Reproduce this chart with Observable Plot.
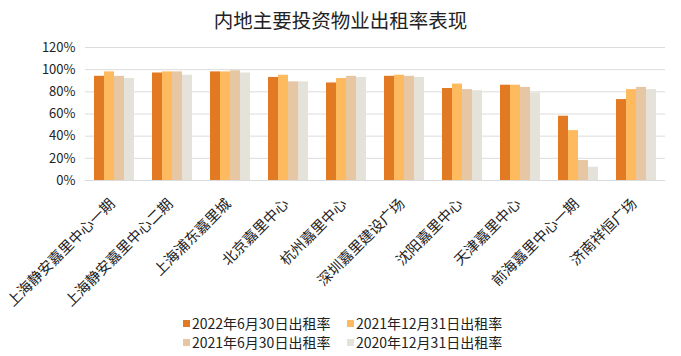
<!DOCTYPE html>
<html>
<head>
<meta charset="utf-8">
<script src="https://cdn.jsdelivr.net/npm/d3@7"></script>
<script src="https://cdn.jsdelivr.net/npm/@observablehq/plot@0.6"></script>
<style>
  body { margin: 0; background: #fff; font-family: "Noto Sans CJK SC", "Noto Sans", sans-serif; color: #222; }
  #wrap { width: 681px; height: 356px; overflow: hidden; }
  #title { height: 38px; line-height: 40px; text-align: center; font-size: 19.5px; color: #222; }
  #chart svg { display: block; }
  #legend { display: grid; grid-template-columns: 164px auto; padding-left: 183px; font-size: 14px; line-height: 19px; margin-top: 4px; }
  .item { display: flex; align-items: center; white-space: nowrap; }
  .sw { width: 7px; height: 7px; margin-right: 2px; display: inline-block; }
</style>
</head>
<body>
<div id="wrap">
  <div id="title">内地主要投资物业出租率表现</div>
  <div id="chart"></div>
  <div id="legend"></div>
</div>
<script>
const categories = ["上海静安嘉里中心一期","上海静安嘉里中心二期","上海浦东嘉里城","北京嘉里中心","杭州嘉里中心","深圳嘉里建设广场","沈阳嘉里中心","天津嘉里中心","前海嘉里中心一期","济南祥恒广场"];
const series = ["2022年6月30日出租率","2021年12月31日出租率","2021年6月30日出租率","2020年12月31日出租率"];
const rate2022Jun = [94, 97, 98, 93, 88, 94, 83, 86, 58, 73];
const rate2021Dec = [98, 98, 98, 95, 92, 95, 87, 86, 45, 82];
const rate2021Jun = [94, 98, 99, 89, 94, 94, 82, 84, 18, 84];
const rate2020Dec = [92, 95, 97, 89, 93, 93, 81, 79, 12, 82];
const colors = ["#E27A24", "#FDBA5E", "#E6C6A3", "#E5E2DA"];
const yTicks = [0, 20, 40, 60, 80, 100, 120];

const allValues = [rate2022Jun, rate2021Dec, rate2021Jun, rate2020Dec];
const data = [];
categories.forEach((c, i) => {
  series.forEach((s, j) => data.push({category: c, series: s, value: allValues[j][i]}));
});

const chart = Plot.plot({
  width: 681,
  height: 272,
  marginTop: 9,
  marginBottom: 130,
  marginLeft: 80,
  marginRight: 10,
  style: {fontFamily: '"Noto Sans CJK SC", "Noto Sans", sans-serif', fontSize: "13px", color: "#222", background: "#fff"},
  fx: {domain: categories, paddingInner: 0.27, paddingOuter: 0.15, label: null},
  x: {domain: series, padding: 0, axis: null},
  y: {domain: [0, 120], label: null},
  color: {domain: series, range: colors},
  marks: [
    Plot.ruleY(yTicks, {stroke: "#dcdcdc", strokeWidth: 1, insetLeft: -8, insetRight: -8}),
    Plot.barY(data, {fx: "category", x: "series", y: "value", fill: "series"}),
    Plot.axisY({ticks: yTicks, tickFormat: d => d + "%", tickSize: 0, tickPadding: 18, label: null, fontSize: 13}),
    Plot.axisFx({anchor: "bottom", tickRotate: -45, tickSize: 0, tickPadding: 12, dx: -2, dy: 9, fontSize: 14.5, label: null})
  ]
});
document.getElementById("chart").appendChild(chart);

const legend = document.getElementById("legend");
series.forEach((s, j) => {
  const item = document.createElement("div");
  item.className = "item";
  const sw = document.createElement("span");
  sw.className = "sw";
  sw.style.background = colors[j];
  item.appendChild(sw);
  item.appendChild(document.createTextNode(s));
  legend.appendChild(item);
});
</script>
</body>
</html>
